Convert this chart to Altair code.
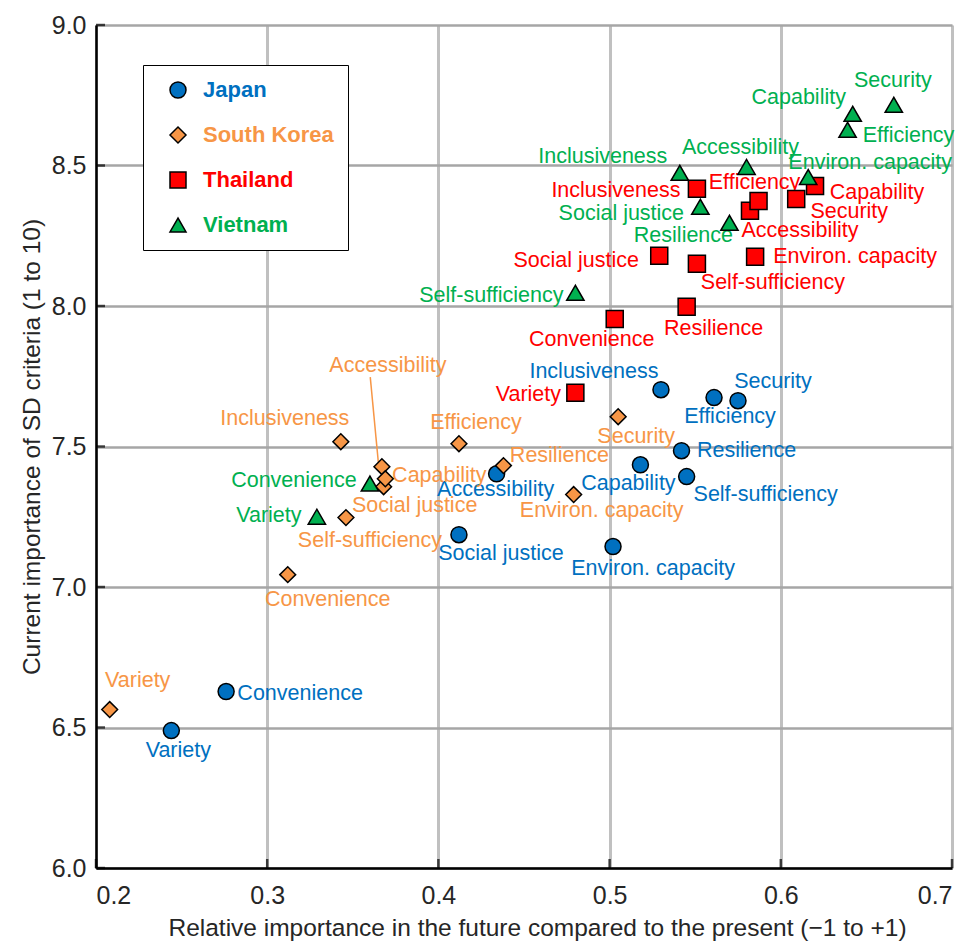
import altair as alt
import pandas as pd

CRITERIA = ["Variety", "Convenience", "Social justice", "Accessibility", "Environ. capacity",
            "Capability", "Inclusiveness", "Efficiency", "Security", "Resilience", "Self-sufficiency"]
COUNTRIES = ["Japan", "South Korea", "Thailand", "Vietnam"]

japan_x = [0.244, 0.276, 0.412, 0.434, 0.502, 0.518, 0.530, 0.561, 0.575, 0.542, 0.545]
japan_y = [6.489, 6.628, 7.186, 7.403, 7.144, 7.435, 7.702, 7.674, 7.663, 7.485, 7.393]
korea_x = [0.208, 0.312, 0.368, 0.367, 0.479, 0.369, 0.343, 0.412, 0.505, 0.438, 0.346]
korea_y = [6.564, 7.044, 7.357, 7.428, 7.329, 7.385, 7.517, 7.510, 7.606, 7.432, 7.247]
thai_x = [0.480, 0.503, 0.529, 0.582, 0.585, 0.620, 0.551, 0.587, 0.609, 0.545, 0.551]
thai_y = [7.691, 7.954, 8.179, 8.339, 8.175, 8.427, 8.417, 8.374, 8.381, 7.997, 8.150]
viet_x = [0.329, 0.360, 0.553, 0.580, 0.616, 0.642, 0.541, 0.639, 0.666, 0.570, 0.480]
viet_y = [7.250, 7.368, 8.353, 8.495, 8.459, 8.684, 8.474, 8.627, 8.716, 8.296, 8.047]

# label placement (pixel offsets from the marker centre to the label centre)
japan_off = [(7, 20), (74, 2), (42, 19), (-1, 16), (40, 22), (-12, 19), (-67, -18), (16, 19), (35, -19), (65, 0), (79, 18)]
korea_off = [(28, -29), (40, 25), (31, 19), (6, -101), (28, 16), (54, -3), (-56, -23), (17, -21), (18, 20), (56, -10), (24, 23)]
thai_off = [(-47, 2), (-23, 21), (-83, 5), (50, 20), (100, 0), (62, 7), (-81, 2), (-4, -18), (53, 13), (27, 22), (76, 19)]
viet_off = [(-48, -1), (-76, -3), (-79, 7), (-6, -19), (62, -14), (-54, -16), (-77, -16), (61, 6), (-1, -24), (-46, 13), (-84, 3)]

# leader line for South Korea "Accessibility"
leader_x = [0.3602, 0.3649]
leader_y = [7.747, 7.445]

X_TICKS = [0.2, 0.3, 0.4, 0.5, 0.6, 0.7]
Y_TICKS = [6.0, 6.5, 7.0, 7.5, 8.0, 8.5, 9.0]
X_DOMAIN = [0.2, 0.7]
Y_DOMAIN = [6.0, 9.0]

COLORS = {"Japan": "#0070C0", "South Korea": "#F79646", "Thailand": "#FF0000", "Vietnam": "#00B050"}
SHAPES = {"Japan": "circle", "South Korea": "diamond", "Thailand": "square", "Vietnam": "triangle-up"}
SIZES = {"Japan": 256, "South Korea": 250, "Thailand": 290, "Vietnam": 300}

rows = []
for country, xs, ys, offs in [("Japan", japan_x, japan_y, japan_off),
                              ("South Korea", korea_x, korea_y, korea_off),
                              ("Thailand", thai_x, thai_y, thai_off),
                              ("Vietnam", viet_x, viet_y, viet_off)]:
    for c, xv, yv, (dx, dy) in zip(CRITERIA, xs, ys, offs):
        rows.append({"country": country, "criterion": c, "x": xv, "y": yv,
                     "dx": dx, "dy": dy, "tcolor": COLORS[country], "sz": SIZES[country]})
df = pd.DataFrame(rows)

W, H = 856, 843
FONT = "Liberation Sans"

xscale = alt.Scale(domain=X_DOMAIN, nice=False, zero=False)
yscale = alt.Scale(domain=Y_DOMAIN, nice=False, zero=False)

color_scale = alt.Scale(domain=COUNTRIES, range=[COLORS[c] for c in COUNTRIES])
shape_scale = alt.Scale(domain=COUNTRIES, range=[SHAPES[c] for c in COUNTRIES])

base = alt.Chart(df)

xaxis = alt.Axis(values=X_TICKS, format=".1f", title="Relative importance in the future compared to the present (\u22121 to +1)",
                 grid=True, gridColor="#C0C0C0", gridWidth=3, tickSize=0, labelPadding=15,
                 labelFontSize=25, titleFontSize=24.5, titlePadding=8, titleX=W / 2 + 13,
                 domainColor="black", domainWidth=2.5,
                 labelColor="#262626", titleColor="#262626", labelFont=FONT, titleFont=FONT, titleFontWeight="normal")
yaxis = alt.Axis(values=Y_TICKS, format=".1f", title="Current importance of SD criteria (1 to 10)",
                 grid=True, gridColor="#A6A6A6", gridWidth=2.5, tickSize=0, labelPadding=10,
                 labelFontSize=25, titleFontSize=24.5, titlePadding=7, domainColor="black", domainWidth=2.5,
                 labelColor="#262626", titleColor="#262626", labelFont=FONT, titleFont=FONT, titleFontWeight="normal")

points = base.mark_point(filled=True, opacity=1, stroke="black", strokeWidth=1.5).encode(
    x=alt.X("x:Q", scale=xscale, axis=xaxis),
    y=alt.Y("y:Q", scale=yscale, axis=yaxis),
    color=alt.Color("country:N", scale=color_scale,
                    legend=alt.Legend(title=None, orient="none", legendX=47, legendY=40,
                                      strokeColor="black", fillColor="white", padding=14,
                                      rowPadding=23, symbolSize=256, symbolOffset=10,
                                      symbolStrokeColor="black", symbolStrokeWidth=1.5,
                                      labelFontSize=22, labelFontWeight="bold", labelFont=FONT,
                                      labelOffset=14, labelColor=alt.ExprRef(expr="scale('color', datum.value)"))),
    shape=alt.Shape("country:N", scale=shape_scale),
    size=alt.Size("sz:Q", scale=None),
)

# convert pixel offsets into data units using the plot size and scale domains
px_x = (X_DOMAIN[1] - X_DOMAIN[0]) / W
px_y = (Y_DOMAIN[1] - Y_DOMAIN[0]) / H

labels = base.transform_calculate(
    lx=f"datum.x + datum.dx * {px_x}",
    ly=f"datum.y - datum.dy * {px_y}",
).mark_text(fontSize=21.5, font=FONT, align="center", baseline="middle").encode(
    x=alt.X("lx:Q", scale=xscale),
    y=alt.Y("ly:Q", scale=yscale),
    text="criterion:N",
    color=alt.Color("tcolor:N", scale=None),
)

leader = alt.Chart(pd.DataFrame({"x": [leader_x[0]], "y": [leader_y[0]], "x2": [leader_x[1]], "y2": [leader_y[1]]})).mark_rule(
    color="#F79646", strokeWidth=1.5).encode(
    x=alt.X("x:Q", scale=xscale), y=alt.Y("y:Q", scale=yscale), x2="x2:Q", y2="y2:Q")

yticks = alt.Chart(pd.DataFrame({"v": Y_TICKS})).mark_tick(color="black", thickness=2.5, size=9).encode(
    y=alt.Y("v:Q", scale=yscale), x=alt.value(4.5))
xticks = alt.Chart(pd.DataFrame({"v": X_TICKS})).mark_tick(color="black", thickness=2.5, size=9).encode(
    x=alt.X("v:Q", scale=xscale), y=alt.value(H - 4.5))

chart = alt.layer(leader, labels, points, yticks, xticks).properties(
    width=W, height=H,
    autosize=alt.AutoSizeParams(type="none"),
    padding={"left": 88, "top": 17, "right": 10, "bottom": 80},
).configure_view(stroke="black", strokeWidth=2.5).configure(background="white")

chart.save("out.html", embed_options={"renderer": "svg", "actions": False})
